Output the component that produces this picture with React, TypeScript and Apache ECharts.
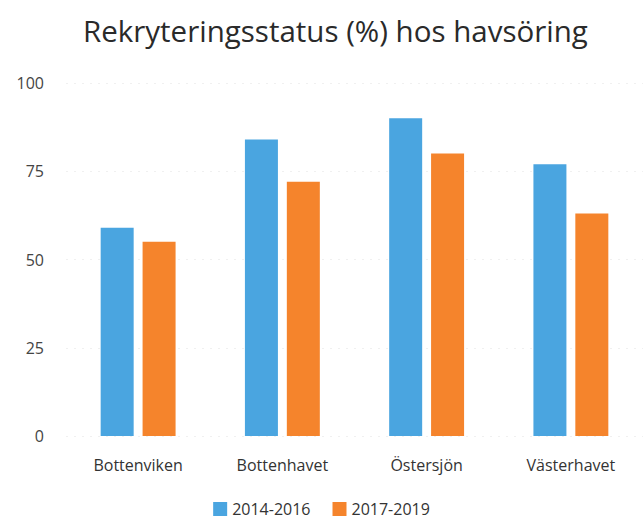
import React, { useEffect, useRef } from "react";
import * as echarts from "echarts";

const titleText = "Rekryteringsstatus (%) hos havsöring";
const categories = ["Bottenviken", "Bottenhavet", "Östersjön", "Västerhavet"];
const seriesNames = ["2014-2016", "2017-2019"];
const values2014_2016 = [59, 84, 90, 77];
const values2017_2019 = [55, 72, 80, 63];
const yTicks = [0, 25, 50, 75, 100];

const BLUE = "#4AA5E0";
const ORANGE = "#F5842C";
const FONT = "'Open Sans', 'Noto Sans', sans-serif";

export default function App() {
  const ref = useRef<HTMLDivElement>(null);
  useEffect(() => {
    if (!ref.current) return;
    const chart = echarts.init(ref.current, undefined, { renderer: "svg" });
    chart.setOption({
      animation: false,
      backgroundColor: "#ffffff",
      title: {
        text: titleText,
        left: 78,
        top: 10,
        textStyle: { fontFamily: FONT, fontSize: 29.5, fontWeight: "normal", color: "#2a2a2a" },
      },
      legend: {
        data: seriesNames,
        bottom: -2,
        left: "center",
        itemWidth: 14,
        itemHeight: 14,
        itemGap: 22,
        icon: "rect",
        textStyle: { fontFamily: FONT, fontSize: 16, color: "#333" },
      },
      grid: { left: 66, right: 0, top: 83, bottom: 84, containLabel: false },
      xAxis: {
        type: "category",
        data: categories,
        axisLine: { show: false },
        axisTick: { show: false },
        axisLabel: { fontFamily: FONT, fontSize: 16, color: "#333", margin: 21 },
      },
      yAxis: {
        type: "value",
        min: yTicks[0],
        max: yTicks[yTicks.length - 1],
        interval: 25,
        axisLine: { show: false },
        axisTick: { show: false },
        axisLabel: { fontFamily: FONT, fontSize: 16, color: "#444", margin: 22 },
        splitLine: { lineStyle: { color: "#f0f0f0", type: [2, 6], width: 1 } },
      },
      series: [
        {
          name: seriesNames[0],
          type: "bar",
          data: values2014_2016,
          itemStyle: { color: BLUE },
          barWidth: 33,
          barGap: "27%",
        },
        {
          name: seriesNames[1],
          type: "bar",
          data: values2017_2019,
          itemStyle: { color: ORANGE },
          barWidth: 33,
          barGap: "27%",
        },
      ],
    });
    return () => chart.dispose();
  }, []);
  return (
    <div
      ref={ref}
      style={{ position: "fixed", left: 0, top: 0, width: 643, height: 520, background: "#fff" }}
    />
  );
}
